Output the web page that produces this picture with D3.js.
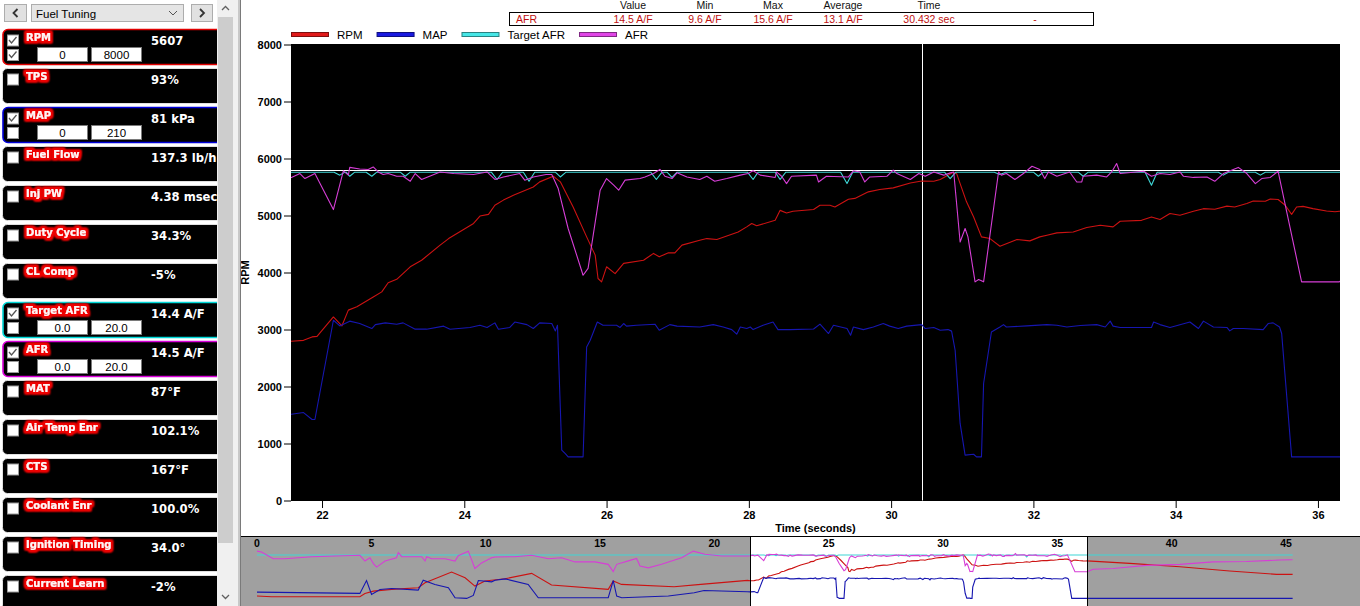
<!DOCTYPE html>
<html>
<head>
<meta charset="utf-8">
<script src="https://cdn.jsdelivr.net/npm/d3@7"></script>
<style>
  body { margin: 0; background: #fff; overflow: hidden; }
  svg { display: block; }
</style>
</head>
<body>
<div id="chart"></div>
<script>
const xTicks = [22, 24, 26, 28, 30, 32, 34, 36]
const yTicks = [0, 1000, 2000, 3000, 4000, 5000, 6000, 7000, 8000]
const overviewTicks = [0, 5, 10, 15, 20, 25, 30, 35, 40, 45]
const viewRange = [21.564, 36.31]
const cursorTime = 30.432
const cursorAfr = 14.5

const seriesNames = ['RPM', 'MAP', 'Target AFR', 'AFR']

// [time (s), rpm]
const rpm = [
  [0,1030],[0.64,950],[4.5,950],[4.72,1330],[5.09,1600],[5.89,1800],[7.05,1990],[7.35,2560],[8.51,3800],[9.1,3140],
  [9.53,2180],[9.97,2760],[10.85,3030],[12.01,3640],[12.88,2300],[15.36,1800],[15.58,2760],[15.94,2370],[18.24,2100],
  [19.41,2370],[21.45,2830],
  [21.57,2795],[21.74,2810],[21.86,2870],[21.93,2880],[22.16,3220],[22.28,3065],[22.37,3340],[22.49,3400],[22.72,3570],
  [22.84,3660],[22.93,3820],[23.05,3880],[23.24,4100],[23.4,4215],[23.66,4480],[23.78,4595],[24.13,4860],[24.22,4990],
  [24.34,5020],[24.43,5180],[24.55,5270],[24.69,5355],[24.97,5500],[25.06,5590],[25.25,5690],[25.35,5590],[25.53,5150],
  [25.72,4625],[25.84,4305],[25.88,3895],[25.93,3835],[26.0,4100],[26.12,3980],[26.24,4160],[26.52,4215],[26.66,4335],
  [26.74,4275],[26.87,4345],[26.96,4345],[27.06,4480],[27.31,4565],[27.41,4595],[27.55,4580],[27.85,4710],[27.97,4800],
  [28.04,4860],[28.11,4820],[28.37,4915],[28.44,5090],[28.53,5045],[28.62,5075],[28.91,5105],[29.0,5180],[29.14,5180],
  [29.21,5150],[29.4,5285],[29.49,5300],[29.68,5415],[29.84,5455],[30.03,5485],[30.27,5570],[30.43,5605],[30.6,5600],
  [30.69,5630],[30.87,5755],[30.92,5740],[30.97,5560],[31.06,5240],[31.16,4975],[31.27,4625],[31.39,4595],[31.53,4460],
  [31.77,4580],[31.95,4555],[32.09,4625],[32.19,4655],[32.33,4695],[32.56,4710],[32.75,4790],[32.94,4830],[33.12,4800],
  [33.22,4900],[33.52,4915],[33.66,4975],[33.78,4930],[33.92,5035],[34.06,5005],[34.25,5075],[34.39,5120],[34.55,5110],
  [34.72,5165],[34.83,5150],[35.0,5210],[35.09,5255],[35.26,5250],[35.33,5290],[35.44,5280],[35.54,5180],[35.63,5020],
  [35.7,5150],[35.79,5160],[35.93,5120],[36.12,5080],[36.24,5065],[36.3,5075],
  [38.17,4795],[40.36,4410],[42.54,3910],[44.58,3530],[45.29,3520]
]

// [time (s), kPa]
const map = [
  [0,39],[4.5,35],[4.79,74],[5.01,32],[5.38,47],[5.89,50],[7.05,45],[7.27,75],[7.78,62],[8.37,52],[8.66,22],[9.17,20],
  [9.46,29],[9.68,74],[10.26,70],[10.41,75],[10.85,79],[11.86,62],[12.3,22],[15.36,22],[15.58,74],[15.73,27],[15.95,22],
  [17.99,27],[19.12,37],[19.55,44],[21.45,40],
  [21.57,39.7],[21.74,40.5],[21.86,37.3],[21.9,37.3],[22.16,83.0],[22.25,80.4],[22.39,82.6],[22.53,81.5],[22.7,79.2],
  [22.75,81.0],[22.89,81.8],[23.05,81.2],[23.14,81.8],[23.31,78.9],[23.47,78.9],[23.71,80.3],[23.8,78.9],[24.08,79.7],
  [24.22,80.7],[24.32,79.7],[24.43,81.8],[24.48,78.9],[24.64,79.7],[24.71,82.2],[24.88,81.0],[24.97,79.2],[25.06,81.8],
  [25.23,81.5],[25.28,78.1],[25.31,80.7],[25.37,23.2],[25.42,21.6],[25.46,20.1],[25.67,20.1],[25.72,70.7],[25.77,73.8],
  [25.87,82.2],[25.95,80.7],[26.14,80.7],[26.19,79.7],[26.24,81.5],[26.28,80.3],[26.42,80.7],[26.68,81.2],[26.74,78.4],
  [26.89,81.0],[26.99,80.3],[27.31,79.9],[27.5,81.0],[27.64,79.9],[27.76,78.7],[27.83,76.6],[27.88,79.9],[27.97,79.2],
  [28.02,79.9],[28.06,78.7],[28.2,80.7],[28.34,82.2],[28.41,78.7],[28.58,78.7],[28.91,79.0],[29.0,81.2],[29.12,76.9],
  [29.19,80.7],[29.38,79.2],[29.43,76.1],[29.47,79.9],[29.61,78.7],[29.75,79.9],[29.89,81.5],[29.98,80.3],[30.1,79.2],
  [30.22,80.3],[30.43,81.0],[30.48,79.2],[30.6,79.7],[30.69,78.4],[30.8,78.7],[30.85,78.0],[30.9,69.2],[30.97,35.5],
  [31.04,20.9],[31.16,21.3],[31.2,20.1],[31.27,20.1],[31.3,53.9],[31.41,77.6],[31.53,79.9],[31.58,81.0],[31.62,79.9],
  [31.91,80.4],[32.19,81.0],[32.33,80.7],[32.47,79.9],[32.66,80.6],[32.89,81.0],[33.01,79.9],[33.08,82.6],[33.12,80.3],
  [33.22,79.7],[33.66,79.7],[33.69,82.2],[33.78,81.0],[33.92,79.7],[34.2,82.2],[34.32,79.2],[34.39,82.6],[34.53,79.9],
  [34.72,79.7],[34.76,78.1],[34.81,79.2],[34.95,79.2],[35.23,78.7],[35.3,81.5],[35.37,81.8],[35.46,79.9],[35.49,76.9],
  [35.63,20.1],[36.31,20.1],[45.29,20.1]
]

// [time (s), A/F]
const targetAfr = [
  [0,14.4],[22.17,14.4],[22.25,14.27],[22.32,14.4],[22.34,14.4],[22.39,14.22],[22.46,14.4],[22.62,14.4],[22.7,14.22],
  [22.77,14.4],[23.1,14.4],[23.17,14.22],[23.24,14.4],[24.38,14.4],[24.46,14.08],[24.54,14.4],[24.83,14.4],[24.91,14.0],
  [24.99,14.4],[25.28,14.4],[25.35,14.19],[25.43,14.4],[26.62,14.4],[26.7,14.08],[26.78,14.4],[26.85,14.4],[26.92,14.17],
  [26.99,14.4],[27.98,14.4],[28.06,14.08],[28.13,14.4],[28.37,14.4],[28.44,14.08],[28.52,14.4],[29.29,14.4],[29.38,13.9],
  [29.46,14.4],[30.75,14.4],[30.83,14.12],[30.91,14.4],[31.45,14.4],[31.53,14.3],[31.61,14.4],[32.0,14.4],[32.07,14.22],
  [32.14,14.4],[32.63,14.4],[32.7,14.22],[32.77,14.4],[33.57,14.4],[33.66,13.83],[33.74,14.4],[34.6,14.4],[34.67,14.27],
  [34.74,14.4],[35.12,14.4],[35.19,14.27],[35.26,14.4],[45.29,14.4]
]

// [time (s), A/F]
const afr = [
  [0,15.5],[0.2,15.25],[0.71,13.3],[1.22,13.3],[2.39,13.9],[4.5,14.3],[4.72,12.66],[4.94,13.6],[5.09,11.9],[5.23,10.9],
  [5.6,12.66],[6.1,13.6],[6.18,15.1],[6.33,13.9],[7.2,13.9],[7.35,12.66],[7.42,13.9],[7.64,13.3],[8.22,13.3],[8.66,12.66],
  [8.8,14.2],[9.24,15.5],[9.53,10.5],[9.82,12.1],[10.26,13.6],[10.41,13.8],[11.28,13.9],[12.01,14.3],[12.74,13.3],
  [13.32,13.6],[13.91,12.4],[14.78,12.4],[15.36,11.7],[15.58,9.6],[15.73,11.7],[16.24,12.7],[16.6,13.4],[16.75,11.2],
  [17.11,10.7],[17.69,11.7],[18.57,13.6],[19.08,15.5],[19.59,14.6],[20.32,14.1],[21.45,14.1],
  [21.57,14.17],[21.69,14.34],[21.76,14.12],[21.9,14.34],[22.16,12.76],[22.3,14.46],[22.37,14.27],[22.39,14.61],
  [22.53,14.54],[22.65,14.52],[22.72,14.63],[22.79,14.41],[22.86,14.3],[22.93,14.34],[23.05,14.22],[23.14,14.22],
  [23.24,14.0],[23.31,14.34],[23.4,14.08],[23.66,14.41],[23.85,14.34],[24.13,14.3],[24.32,14.41],[24.43,14.08],
  [24.55,14.19],[24.78,14.34],[24.85,14.05],[24.97,14.19],[25.15,14.3],[25.23,14.3],[25.32,13.68],[25.46,11.93],
  [25.67,9.88],[25.74,10.18],[25.91,13.61],[26.0,14.12],[26.1,13.83],[26.17,13.61],[26.26,14.05],[26.47,14.12],
  [26.54,14.19],[26.66,14.34],[26.75,14.52],[26.82,14.22],[26.92,14.12],[26.99,14.37],[27.13,14.19],[27.31,14.08],
  [27.41,14.22],[27.52,14.0],[27.69,14.12],[27.88,14.27],[27.99,14.34],[28.06,14.46],[28.16,14.27],[28.37,14.17],
  [28.39,14.41],[28.46,14.22],[28.53,13.9],[28.6,14.22],[28.95,14.27],[28.98,13.97],[29.09,14.22],[29.4,14.19],
  [29.47,14.46],[29.56,14.41],[29.63,13.97],[29.7,14.19],[29.94,14.22],[30.03,14.49],[30.08,14.34],[30.27,14.08],
  [30.39,14.34],[30.48,14.22],[30.6,14.41],[30.74,14.27],[30.83,14.37],[30.88,14.41],[30.97,11.34],[31.04,11.93],
  [31.08,11.56],[31.18,9.59],[31.23,9.69],[31.3,9.59],[31.51,14.41],[31.55,14.27],[31.62,14.34],[31.74,14.08],
  [31.86,14.34],[31.98,14.66],[32.09,14.52],[32.16,14.12],[32.21,14.41],[32.33,14.22],[32.51,14.41],[32.61,13.97],
  [32.68,13.97],[32.7,14.22],[32.89,14.27],[33.03,14.19],[33.1,14.41],[33.17,14.78],[33.22,14.34],[33.55,14.44],
  [33.66,14.22],[33.78,14.34],[33.92,14.3],[34.06,14.41],[34.11,14.22],[34.25,14.17],[34.44,14.19],[34.55,14.0],
  [34.67,14.34],[34.88,14.61],[35.0,14.34],[35.12,13.9],[35.21,14.12],[35.33,14.17],[35.44,14.44],[35.77,9.59],
  [36.3,9.59],
  [36.57,10.3],[37.44,10.5],[38.9,11.4],[40.36,11.7],[41.82,12.4],[43.27,12.5],[44.73,12.95],[45.29,13.0]
]

// gauge panel on the left
const gaugeNames = ['RPM','TPS','MAP','Fuel Flow','Inj PW','Duty Cycle','CL Comp','Target AFR','AFR','MAT',
  'Air Temp Enr','CTS','Coolant Enr','Ignition Timing','Current Learn']
const gaugeValues = ['5607','93%','81 kPa','137.3 lb/h','4.38 msec','34.3%','-5%','14.4 A/F','14.5 A/F','87°F',
  '102.1%','167°F','100.0%','34.0°','-2%']
const gaugeRanges = { 'RPM': ['0','8000'], 'MAP': ['0','210'], 'Target AFR': ['0.0','20.0'], 'AFR': ['0.0','20.0'] }
const gaugeChecks = { 'RPM': [true, true], 'MAP': [true, false], 'Target AFR': [true, false], 'AFR': [true, false] }

// stats strip
const statHeaders = ['Value', 'Min', 'Max', 'Average', 'Time']
const statRow = ['AFR', '14.5 A/F', '9.6 A/F', '15.6 A/F', '13.1 A/F', '30.432 sec', '-']


// ---- drawing ----
const width = 1360
const height = 606
const font = '"Liberation Sans", Arial, sans-serif'

const lineColor = { 'RPM': '#cc1212', 'MAP': '#1616b0', 'Target AFR': '#3ed6d6', 'AFR': '#d63ed6' }
const keyColor = { 'RPM': '#e01a1a', 'MAP': '#1a1ae0', 'Target AFR': '#46e6e6', 'AFR': '#e046e6' }
const panelColor = { 'RPM': '#e00000', 'MAP': '#0000d8', 'Target AFR': '#00d8d8', 'AFR': '#d800d8' }

const seriesData = { 'RPM': rpm, 'MAP': map, 'Target AFR': targetAfr, 'AFR': afr }
const seriesDomain = {
  'RPM': gaugeRanges['RPM'].map(Number),
  'MAP': gaugeRanges['MAP'].map(Number),
  'Target AFR': gaugeRanges['Target AFR'].map(Number),
  'AFR': gaugeRanges['AFR'].map(Number)
}

const svg = d3.select('#chart').append('svg')
  .attr('width', width)
  .attr('height', height)
  .style('font-family', font)

const defs = svg.append('defs')

// red halo behind the gauge names
const glow = defs.append('filter').attr('id', 'glow')
  .attr('x', '-20%').attr('y', '-70%').attr('width', '140%').attr('height', '240%')
glow.append('feMorphology').attr('operator', 'dilate').attr('radius', 1.9).attr('in', 'SourceAlpha').attr('result', 'fat')
glow.append('feGaussianBlur').attr('in', 'fat').attr('stdDeviation', 1.0).attr('result', 'soft')
glow.append('feFlood').attr('flood-color', '#f00000')
glow.append('feComposite').attr('in2', 'soft').attr('operator', 'in').attr('result', 'halo')
const merge = glow.append('feMerge')
merge.append('feMergeNode').attr('in', 'halo')
merge.append('feMergeNode').attr('in', 'halo')
merge.append('feMergeNode').attr('in', 'halo')
merge.append('feMergeNode').attr('in', 'SourceGraphic')

// ---------- main plot ----------
const plot = { left: 291, right: 1340, top: 44.5, bottom: 500.5 }

const x = d3.scaleLinear().domain(viewRange).range([plot.left, plot.right])
const y = {}
seriesNames.forEach(n => { y[n] = d3.scaleLinear().domain(seriesDomain[n]).range([plot.bottom, plot.top]) })

defs.append('clipPath').attr('id', 'plotClip')
  .append('rect')
  .attr('x', plot.left).attr('y', plot.top - 1)
  .attr('width', plot.right - plot.left).attr('height', plot.bottom - plot.top + 1)

svg.append('rect')
  .attr('x', plot.left).attr('y', plot.top - 0.5)
  .attr('width', plot.right - plot.left).attr('height', plot.bottom - plot.top + 1)
  .attr('fill', '#000')

// y axis (RPM scale)
const yAxis = svg.append('g')
  .attr('transform', `translate(${plot.left},0)`)
  .call(d3.axisLeft(y['RPM']).tickValues(yTicks).tickSize(7).tickPadding(2).tickFormat(d3.format('d')))
yAxis.select('.domain').remove()
yAxis.selectAll('text').attr('font-size', 11).attr('font-weight', 'bold').attr('font-family', font).attr('fill', '#000')
yAxis.selectAll('line').attr('stroke', '#000')

svg.append('text')
  .attr('transform', `translate(249,${(plot.top + plot.bottom) / 2}) rotate(-90)`)
  .attr('text-anchor', 'middle')
  .attr('font-size', 11).attr('font-weight', 'bold')
  .text('RPM')

// x axis
const xAxis = svg.append('g')
  .attr('transform', `translate(0,${plot.bottom + 0.5})`)
  .call(d3.axisBottom(x).tickValues(xTicks).tickSize(7).tickPadding(3))
xAxis.select('.domain').remove()
xAxis.selectAll('text').attr('font-size', 11).attr('font-weight', 'bold').attr('font-family', font).attr('fill', '#000')
xAxis.selectAll('line').attr('stroke', '#000')

svg.append('text')
  .attr('x', (plot.left + plot.right) / 2).attr('y', 532)
  .attr('text-anchor', 'middle')
  .attr('font-size', 11).attr('font-weight', 'bold')
  .text('Time (seconds)')

const plotArea = svg.append('g').attr('clip-path', 'url(#plotClip)')

// cursors
plotArea.append('line')
  .attr('x1', plot.left).attr('x2', plot.right)
  .attr('y1', Math.round(y['AFR'](cursorAfr)) + 0.5).attr('y2', Math.round(y['AFR'](cursorAfr)) + 0.5)
  .attr('stroke', '#fff')
plotArea.append('line')
  .attr('x1', Math.round(x(cursorTime)) + 0.5).attr('x2', Math.round(x(cursorTime)) + 0.5)
  .attr('y1', plot.top - 1).attr('y2', plot.bottom + 1)
  .attr('stroke', '#fff')

seriesNames.forEach(n => {
  const line = d3.line().x(d => x(d[0])).y(d => y[n](d[1]))
  plotArea.append('path')
    .datum(seriesData[n])
    .attr('d', line)
    .attr('fill', 'none')
    .attr('stroke', lineColor[n])
    .attr('stroke-width', 1.1)
    .attr('stroke-linejoin', 'round')
})

// legend
let lx = plot.left
seriesNames.forEach(n => {
  svg.append('rect')
    .attr('x', lx + 0.5).attr('y', 32.5).attr('width', 37).attr('height', 4)
    .attr('fill', keyColor[n])
    .attr('stroke', d3.color(keyColor[n]).darker(1.6))
  const t = svg.append('text')
    .attr('x', lx + 46).attr('y', 38.5)
    .attr('font-size', 11.5)
    .text(n)
  lx += 46 + t.node().getComputedTextLength() + 14
})

// stats box
const statCols = [633, 705, 773, 843, 929]
svg.append('rect')
  .attr('x', 509.5).attr('y', 12.5).attr('width', 584).attr('height', 13)
  .attr('fill', '#fff').attr('stroke', '#000')
statHeaders.forEach((h, i) => {
  svg.append('text').attr('x', statCols[i]).attr('y', 9)
    .attr('text-anchor', 'middle').attr('font-size', 10.5).attr('fill', '#111')
    .text(h)
})
svg.append('text').attr('x', 516).attr('y', 22.5)
  .attr('font-size', 10.5).attr('fill', '#c01010').text(statRow[0])
statRow.slice(1, 6).forEach((v, i) => {
  svg.append('text').attr('x', statCols[i]).attr('y', 22.5)
    .attr('text-anchor', 'middle').attr('font-size', 10.5).attr('fill', '#c01010')
    .text(v)
})
svg.append('text').attr('x', 1035).attr('y', 22.5)
  .attr('text-anchor', 'middle').attr('font-size', 10.5).attr('fill', '#c01010').text(statRow[6])

// ---------- overview strip ----------
const ov = { left: 241, right: width, top: 536, bottom: 606 }
const ox = d3.scaleLinear().domain([0, 45]).range([257, 1286])
const oy = {}
seriesNames.forEach(n => { oy[n] = d3.scaleLinear().domain(seriesDomain[n]).range([605, 535.5]) })

svg.append('rect')
  .attr('x', ov.left).attr('y', ov.top)
  .attr('width', ov.right - ov.left).attr('height', ov.bottom - ov.top)
  .attr('fill', '#a0a0a0')
svg.append('rect')
  .attr('x', ox(viewRange[0])).attr('y', ov.top)
  .attr('width', ox(viewRange[1]) - ox(viewRange[0])).attr('height', ov.bottom - ov.top)
  .attr('fill', '#fff')

seriesNames.forEach(n => {
  const line = d3.line().x(d => ox(d[0])).y(d => oy[n](d[1]))
  svg.append('path')
    .datum(seriesData[n])
    .attr('d', line)
    .attr('fill', 'none')
    .attr('stroke', lineColor[n])
    .attr('stroke-width', 1.1)
})

svg.selectAll('.ovTick')
  .data(overviewTicks)
  .join('text')
  .attr('class', 'ovTick')
  .attr('x', d => ox(d)).attr('y', 547)
  .attr('text-anchor', 'middle')
  .attr('font-size', 10.5).attr('font-weight', 'bold').attr('fill', '#000')
  .text(d => d)

svg.append('line')
  .attr('x1', ov.left).attr('x2', ov.right).attr('y1', ov.top + 0.5).attr('y2', ov.top + 0.5)
  .attr('stroke', '#000')
viewRange.forEach(t => {
  svg.append('line')
    .attr('x1', Math.round(ox(t)) + 0.5).attr('x2', Math.round(ox(t)) + 0.5)
    .attr('y1', ov.top).attr('y2', ov.bottom)
    .attr('stroke', '#000')
})

// ---------- gauge panel ----------
const side = svg.append('g')
side.append('rect').attr('x', 0).attr('y', 0).attr('width', 240).attr('height', height).attr('fill', '#fff')

// toolbar
const button = (bx, w, dir) => {
  side.append('rect').attr('x', bx + 0.5).attr('y', 4.5).attr('width', w).attr('height', 17)
    .attr('fill', '#e1e1e1').attr('stroke', '#adadad')
  const cx = bx + w / 2 + 0.5
  const pts = dir < 0 ? [[cx + 2, 9], [cx - 2, 13], [cx + 2, 17]] : [[cx - 2, 9], [cx + 2, 13], [cx - 2, 17]]
  side.append('path').attr('d', d3.line()(pts)).attr('fill', 'none').attr('stroke', '#333').attr('stroke-width', 1.8)
}
button(4, 22, -1)
button(191, 21, 1)
side.append('rect').attr('x', 31.5).attr('y', 4.5).attr('width', 152).attr('height', 17)
  .attr('fill', '#e5e5e5').attr('stroke', '#adadad')
side.append('text').attr('x', 36).attr('y', 17.5).attr('font-size', 11.5).attr('fill', '#000').text('Fuel Tuning')
side.append('path').attr('d', d3.line()([[169, 11], [173, 15], [177, 11]]))
  .attr('fill', 'none').attr('stroke', '#555')

const tick = (g, bx, by) => {
  g.append('path').attr('d', d3.line()([[bx + 2, by + 5.5], [bx + 4.5, by + 8.5], [bx + 9.5, by + 2.5]]))
    .attr('fill', 'none').attr('stroke', '#555').attr('stroke-width', 1.3)
}
const box = (g, bx, by, on) => {
  g.append('rect').attr('x', bx + 0.5).attr('y', by + 0.5).attr('width', 11).attr('height', 11)
    .attr('fill', '#fff').attr('stroke', '#9a9a9a')
  if (on) tick(g, bx, by)
}

gaugeNames.forEach((name, i) => {
  const top = 29.5 + 39 * i
  const g = side.append('g')
  const active = name in gaugeRanges
  g.append('rect')
    .attr('x', active ? 3 : 2.5).attr('y', top)
    .attr('width', 226).attr('height', 35)
    .attr('rx', 5)
    .attr('fill', '#000')
    .attr('stroke', active ? panelColor[name] : '#e0e0e0')
    .attr('stroke-width', active ? 1.6 : 1)

  const checks = gaugeChecks[name] || [false]
  box(g, 7, top + 5, checks[0])

  g.append('text')
    .attr('x', 26).attr('y', top + 11.5)
    .attr('font-family', '"DejaVu Sans", Verdana, sans-serif')
    .attr('font-size', 10).attr('font-weight', 'bold')
    .attr('fill', '#fff4f4')
    .attr('filter', 'url(#glow)')
    .text(name)

  g.append('text')
    .attr('x', 151).attr('y', top + 15)
    .attr('font-family', '"DejaVu Sans", Verdana, sans-serif')
    .attr('font-size', 11.6).attr('font-weight', 'bold')
    .attr('fill', '#fff')
    .text(gaugeValues[i])

  if (active) {
    box(g, 7, top + 19.5, checks[1])
    gaugeRanges[name].forEach((v, k) => {
      const bx = 37 + k * 54
      g.append('rect').attr('x', bx + 0.5).attr('y', top + 18).attr('width', 50).attr('height', 14)
        .attr('fill', '#fff').attr('stroke', '#7a7a7a')
      g.append('text').attr('x', bx + 25.5).attr('y', top + 29.5)
        .attr('text-anchor', 'middle').attr('font-size', 11.5).attr('fill', '#000')
        .text(v)
    })
  }
})

// scrollbar + splitter
side.append('rect').attr('x', 217).attr('y', 0).attr('width', 21).attr('height', height).attr('fill', '#f0f0f0')
side.append('rect').attr('x', 218).attr('y', 17).attr('width', 15).attr('height', 526).attr('fill', '#cdcdcd')
side.append('path').attr('d', d3.line()([[222, 10], [225.5, 6.5], [229, 10]])).attr('fill', 'none').attr('stroke', '#606060').attr('stroke-width', 1.3)
side.append('path').attr('d', d3.line()([[222, 595], [225.5, 598.5], [229, 595]])).attr('fill', 'none').attr('stroke', '#606060').attr('stroke-width', 1.3)
side.append('rect').attr('x', 238).attr('y', 0).attr('width', 2).attr('height', height).attr('fill', '#c8c8c8')
side.append('rect').attr('x', 240).attr('y', 0).attr('width', 1).attr('height', height).attr('fill', '#7a7a7a')
</script>
</body>
</html>
